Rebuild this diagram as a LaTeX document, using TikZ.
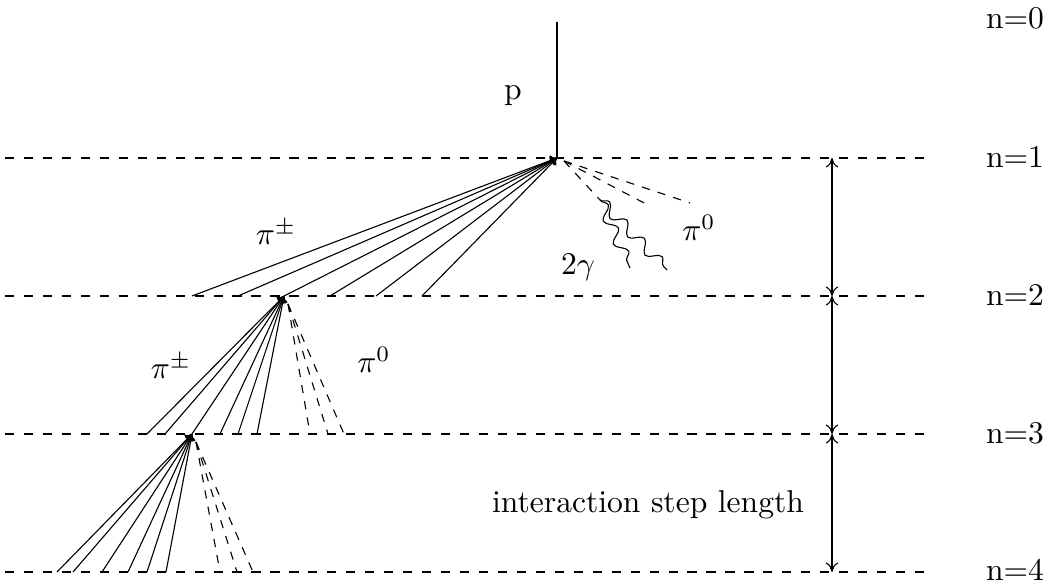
\documentclass[tikz,border=0pt]{standalone}
\usetikzlibrary{decorations.pathmorphing,arrows.meta}
\begin{document}
\begin{tikzpicture}[x=0.3165pt,y=-0.3165pt,
  level/.style={dash pattern=on 2.9pt off 3.1pt, line width=0.35pt},
  fan/.style={line width=0.35pt, {To[length=2pt,width=3pt]}-},
  neutral/.style={dash pattern=on 2.6pt off 2.6pt, line width=0.35pt},
  photon/.style={decorate, decoration={snake, amplitude=1.8pt, segment length=8pt}, line width=0.35pt},
  steparrow/.style={{To[length=3pt,width=4pt]}-{To[length=3pt,width=4pt]}, line width=0.35pt},
  lbl/.style={inner sep=0pt, font=\normalsize}]
\useasboundingbox (0,0) rectangle (1048,586);
% levels
\foreach \i/\y in {1/158,2/296,3/434,4/572}{
  \coordinate (L\i a) at (5,\y);
  \coordinate (L\i b) at (925,\y);
  \draw[level] (L\i a) -- (L\i b);
  \coordinate (A\i) at (832,\y);
}
\foreach \i/\y in {0/18,1/157,2/295,3/433,4/570}{
  \node[lbl] (n\i) at (1015,\y) {n=\i};
}
% vertical arrows
\draw[steparrow] (A1) -- (A2);
\draw[steparrow] (A2) -- (A3);
\draw[steparrow] (A3) -- (A4);
\node[lbl] (isl) at (648,505) {interaction step length};
% vertices
\coordinate (top) at (557,22);
\coordinate (v1) at (557,158);
\coordinate (v2) at (284,296);
\coordinate (v3) at (192,434);
\draw[line width=0.35pt] (top) -- (v1);
\node[lbl] (p) at (513,96) {p};
% fan 1
\foreach \x in {192,238,284,330,376,422}{
  \coordinate (f1-\x) at (\x,296);
  \draw[fan] (v1) -- (f1-\x);
}
% fan 2
\foreach \x in {147,165,192,220,238,257}{
  \coordinate (f2-\x) at (\x,434);
  \draw[fan] (v2) -- (f2-\x);
}
% fan 3
\foreach \x in {57,73,102,128,147,166}{
  \coordinate (f3-\x) at (\x,572);
  \draw[fan] (v3) -- (f3-\x);
}
% neutral pions at v1
\coordinate (d1s) at (564,161);
\coordinate (d1a) at (690,203);
\coordinate (d1b) at (648,205);
\coordinate (gs) at (600,200);
\draw[neutral] (d1s) -- (d1a);
\draw[neutral] (d1s) -- (d1b);
\draw[neutral] (d1s) -- (gs);
% photons
\coordinate (g1) at (630,268);
\coordinate (g2) at (667,270);
\draw[photon] (gs) -- (g1);
\draw[photon] (gs) -- (g2);
% neutral pions at v2
\coordinate (d2s) at (288,304);
\foreach \x in {310,328,344}{
  \coordinate (d2-\x) at (\x,434);
  \draw[neutral] (d2s) -- (d2-\x);
}
% neutral pions at v3
\coordinate (d3s) at (196,442);
\foreach \x in {220,237,253}{
  \coordinate (d3-\x) at (\x,572);
  \draw[neutral] (d3s) -- (d3-\x);
}
% labels
\node[lbl] (pic1) at (276,232) {$\pi^{\pm}$};
\node[lbl] (pin1) at (699,228) {$\pi^{0}$};
\node[lbl] (gg) at (578,267) {$2\gamma$};
\node[lbl] (pic2) at (171,366) {$\pi^{\pm}$};
\node[lbl] (pin2) at (374,360) {$\pi^{0}$};
\end{tikzpicture}
\end{document}
